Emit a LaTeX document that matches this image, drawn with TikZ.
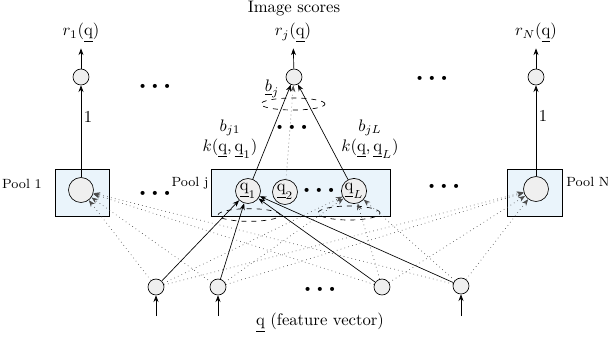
\documentclass[tikz,border=0pt]{standalone}
\usetikzlibrary{shapes, positioning, arrows.meta}
\definecolor{PoolFill}{HTML}{EAF4FB}
\definecolor{UnitFill}{HTML}{EFEFEF}
\def\uq{\underline{\mathrm{q}}}
\def\hdots{{\tiny$\bullet\;\bullet\;\bullet$}}

\begin{document}
\begin{tikzpicture}[
    x=0.6pt, y=-0.6pt,
    >={Stealth[length=4pt, width=3pt]},
    poolBox/.style={draw, rectangle, fill=PoolFill, minimum height=28.2pt, inner sep=0pt},
    unit/.style={draw, circle, fill=UnitFill, minimum size=9.6pt, inner sep=0pt},
    bigUnit/.style={draw, circle, fill=UnitFill, minimum size=15pt, inner sep=0.3pt},
    sumRing/.style={draw, dashed, ellipse, minimum width=37.2pt, minimum height=7.6pt, inner sep=0pt},
    weak/.style={dotted, black!70},
    poolLabel/.style={font=\footnotesize},
  ]
  \useasboundingbox (0,0) rectangle (608,337);
  % pools
  \node[poolBox, minimum width=32.4pt]  (poolOne) at (82,193)    {};
  \node[poolBox, minimum width=107.4pt] (poolJ)   at (300.5,192.5) {};
  \node[poolBox, minimum width=33pt]    (poolN)   at (534.5,193) {};
  \node[poolLabel] (poolOneL) at (22,184)  {Pool 1};
  \node[poolLabel] (poolJL)   at (190,183) {Pool j};
  \node[poolLabel] (poolNL)   at (588,182) {Pool N};
  \node[sumRing] (ringQOne) at (249,215) {};
  \node[sumRing, minimum height=8.4pt] (ringQL) at (349,213) {};
  \node[bigUnit] (poolOneC) at (81,190)  {};
  \node[bigUnit] (qOne)     at (248,191) {$\uq_1$};
  \node[bigUnit] (qTwo)     at (285,192) {$\uq_2$};
  \node          (qDots)    at (319,190) {\hdots};
  \node[bigUnit] (qL)       at (354,191) {$\uq_L$};
  \node[bigUnit] (poolNC)   at (536,189) {};
  \node (poolDotsL) at (155,193) {\hdots};
  \node (poolDotsR) at (444,186) {\hdots};
  % outputs
  \node (title) at (294,9) {Image scores};
  \node (rOne) at (81,33)  {$r_1(\uq)$};
  \node (rJ)   at (293,33) {$r_j(\uq)$};
  \node (rN)   at (536,33) {$r_N(\uq)$};
  \node[unit] (outOne) at (81,77)  {};
  \node[unit] (outJ)   at (294,77) {};
  \node[unit] (outN)   at (536,77) {};
  \node (outDotsL) at (155,86) {\hdots};
  \node (outDotsR) at (432,78) {\hdots};
  \node[sumRing, minimum width=38.4pt, minimum height=7.2pt] (ringJ) at (293,104) {};
  \node (bJ)      at (272,89)  {$\underline{b}_j$};
  \node (jDots)   at (292,127) {\hdots};
  \node[align=center] (wOne) at (230,139) {$b_{j1}$\\$k(\uq,\uq_1)$};
  \node[align=center] (wL)   at (370,139) {$b_{jL}$\\$k(\uq,\uq_L)$};
  % inputs
  \node[unit] (inOne)   at (156,287) {};
  \node[unit] (inTwo)   at (218,287) {};
  \node       (inDots)  at (320,289) {\hdots};
  \node[unit] (inThree) at (382,287) {};
  \node[unit] (inFour)  at (461,286) {};
  \coordinate (inOneS)  at (156,316);
  \coordinate (inTwoS)  at (218,316);
  \coordinate (inFourS) at (461,316);
  \node (feature) at (320,323) {$\uq$ (feature vector)};
  % lines
  \draw[->] (outOne) -- (rOne);
  \draw[->] (outJ) -- (rJ);
  \draw[->] (outN) -- (rN);
  \draw[->] (poolOneC) -- node[right, pos=0.66, inner sep=1.5pt] {1} (outOne);
  \draw[->] (poolNC) -- node[right, pos=0.66, inner sep=1.5pt] {1} (outN);
  \draw[->] (qOne) -- (outJ);
  \draw[->] (qL) -- (outJ);
  \draw[->, weak] (qTwo) -- (outJ);
  \draw[->] (inOneS) -- (inOne);
  \draw[->] (inTwoS) -- (inTwo);
  \draw[->] (inFourS) -- (inFour);
  \draw[->] (inOne) -- (qOne);
  \draw[->] (inTwo) -- (qOne);
  \draw[->] (inThree) -- (qOne);
  \draw[->] (inFour) -- (qOne);
  \draw[->, weak] (inOne) -- (poolOneC);
  \draw[->, weak] (inTwo) -- (poolOneC);
  \draw[->, weak] (inThree) -- (poolOneC);
  \draw[->, weak] (inFour) -- (poolOneC);
  \draw[->, weak] (inOne) -- (qL);
  \draw[->, weak] (inTwo) -- (qL);
  \draw[->, weak] (inThree) -- (qL);
  \draw[->, weak] (inFour) -- (qL);
  \draw[->, weak] (inOne) -- (poolNC);
  \draw[->, weak] (inTwo) -- (poolNC);
  \draw[->, weak] (inThree) -- (poolNC);
  \draw[->, weak] (inFour) -- (poolNC);
\end{tikzpicture}
\end{document}
